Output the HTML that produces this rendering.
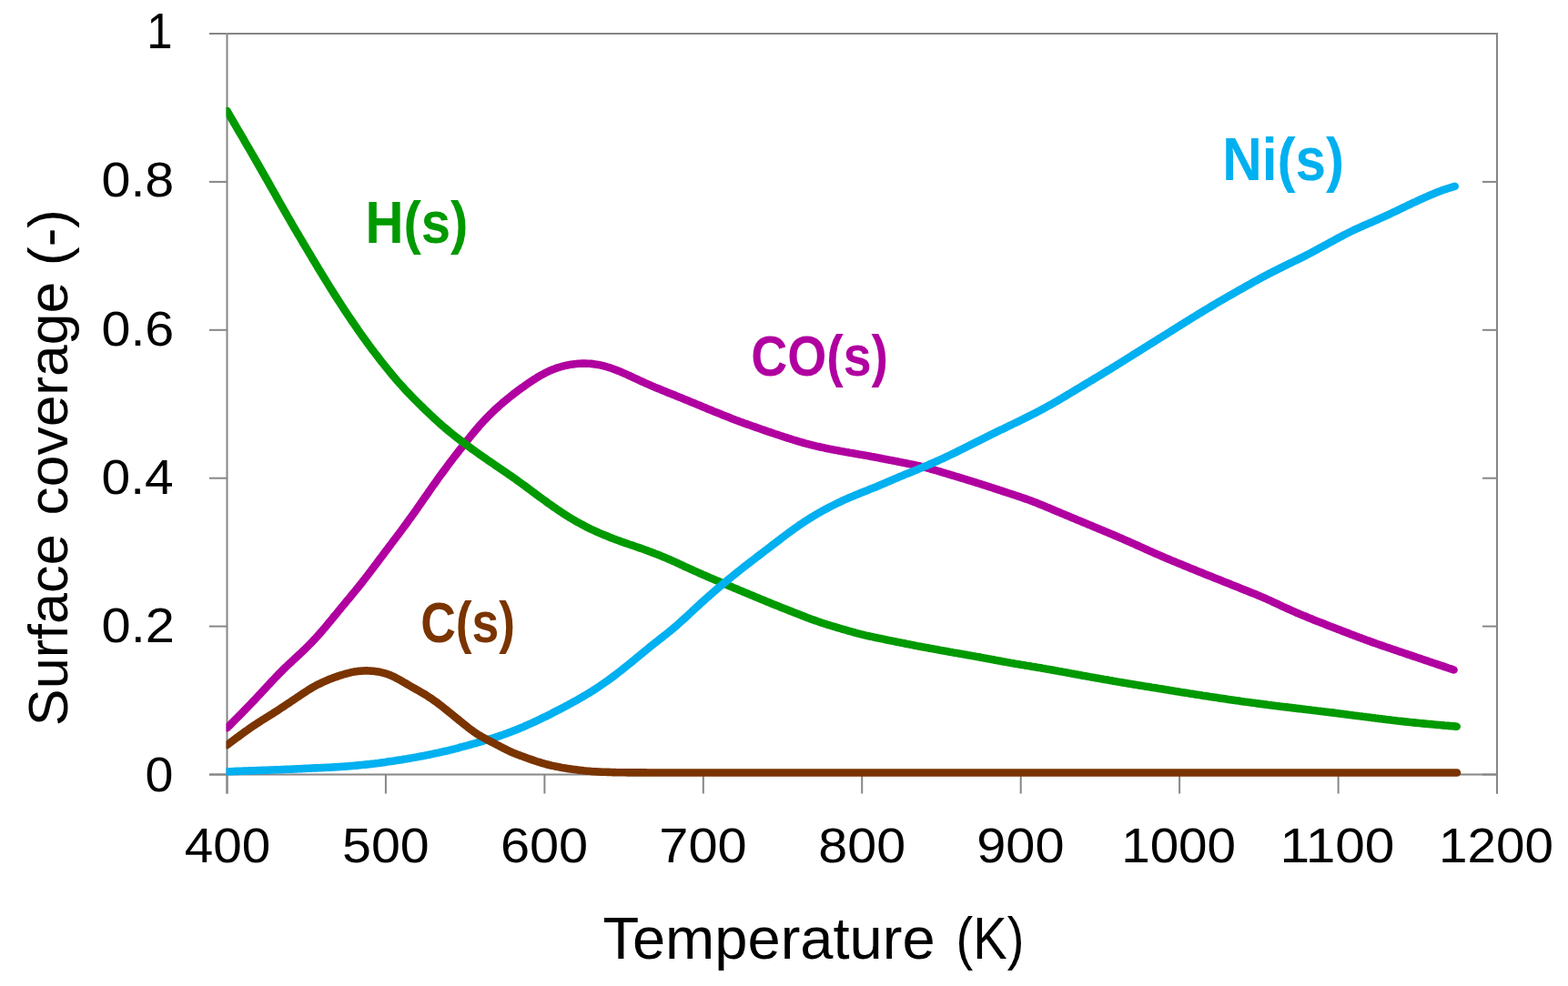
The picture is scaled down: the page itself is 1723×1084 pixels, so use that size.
<!DOCTYPE html><html><head><meta charset="utf-8"><title>Surface coverage vs Temperature</title><style>html,body{margin:0;padding:0;background:#fff;overflow:hidden;width:1723px;height:1084px;}svg{display:block;}text{font-family:"Liberation Sans",Arial,sans-serif;font-size:100px;}</style></head><body>
<svg width="1723" height="1084" viewBox="0 0 1723 1084">
<rect width="1723" height="1084" fill="#fff"/>
<g fill="none" stroke="#868686" stroke-width="2"><path d="M249.5,37.0 H1645.0 V872.5 M249.5,37.0 V872.5 M230.0,851.5 H1645.0" /><path d="M230.0,851.5 H249.5"/><path d="M1629.0,851.5 H1645.0"/><path d="M230.0,688.6 H249.5"/><path d="M1629.0,688.6 H1645.0"/><path d="M230.0,525.7 H249.5"/><path d="M1629.0,525.7 H1645.0"/><path d="M230.0,362.8 H249.5"/><path d="M1629.0,362.8 H1645.0"/><path d="M230.0,199.9 H249.5"/><path d="M1629.0,199.9 H1645.0"/><path d="M230.0,37.0 H249.5"/><path d="M1629.0,37.0 H1645.0"/><path d="M249.5,851.5 V872.5"/><path d="M423.9,851.5 V872.5"/><path d="M598.4,851.5 V872.5"/><path d="M772.8,851.5 V872.5"/><path d="M947.2,851.5 V872.5"/><path d="M1121.7,851.5 V872.5"/><path d="M1296.1,851.5 V872.5"/><path d="M1470.6,851.5 V872.5"/><path d="M1645.0,851.5 V872.5"/></g>
<defs><clipPath id="pc"><rect x="248.5" y="30" width="1400" height="830"/></clipPath></defs>
<g fill="none" stroke-width="8.6" stroke-linecap="round" stroke-linejoin="round" clip-path="url(#pc)">
<path stroke="#B000A0" d="M249.5,800.3 L251.5,798.3 L253.5,796.4 L255.5,794.3 L257.5,792.3 L259.5,790.3 L261.5,788.3 L263.5,786.2 L265.5,784.2 L267.5,782.1 L269.5,780.1 L271.5,778.0 L273.5,776.0 L275.5,773.9 L277.5,771.8 L279.5,769.7 L281.5,767.6 L283.5,765.4 L285.5,763.3 L287.5,761.1 L289.5,759.0 L291.5,756.8 L293.5,754.6 L295.5,752.5 L297.5,750.3 L299.5,748.2 L301.5,746.1 L303.5,744.0 L305.5,741.9 L307.5,739.9 L309.5,737.9 L311.5,735.9 L313.5,733.9 L315.5,732.0 L317.5,730.1 L319.5,728.3 L321.5,726.4 L323.5,724.5 L325.5,722.7 L327.5,720.8 L329.5,719.0 L331.5,717.1 L333.5,715.2 L335.5,713.3 L337.5,711.3 L339.5,709.3 L341.5,707.3 L343.5,705.2 L345.5,703.0 L347.5,700.9 L349.5,698.7 L351.5,696.4 L353.5,694.1 L355.5,691.8 L357.5,689.4 L359.5,687.0 L361.5,684.6 L363.5,682.2 L365.5,679.8 L367.5,677.3 L369.5,674.9 L371.5,672.4 L373.5,670.0 L375.5,667.6 L377.5,665.2 L379.5,662.7 L381.5,660.3 L383.5,657.9 L385.5,655.5 L387.5,653.1 L389.5,650.6 L391.5,648.2 L393.5,645.7 L395.5,643.2 L397.5,640.7 L399.5,638.1 L401.5,635.6 L403.5,633.0 L405.5,630.4 L407.5,627.7 L409.5,625.1 L411.5,622.4 L413.5,619.8 L415.5,617.1 L417.5,614.4 L419.5,611.8 L421.5,609.1 L423.5,606.4 L425.5,603.8 L427.5,601.1 L429.5,598.5 L431.5,595.8 L433.5,593.2 L435.5,590.5 L437.5,587.9 L439.5,585.2 L441.5,582.5 L443.5,579.8 L445.5,577.1 L447.5,574.4 L449.5,571.6 L451.5,568.9 L453.5,566.1 L455.5,563.2 L457.5,560.4 L459.5,557.5 L461.5,554.7 L463.5,551.8 L465.5,548.9 L467.5,546.0 L469.5,543.2 L471.5,540.3 L473.5,537.4 L475.5,534.6 L477.5,531.7 L479.5,528.9 L481.5,526.1 L483.5,523.3 L485.5,520.6 L487.5,517.9 L489.5,515.2 L491.5,512.5 L493.5,509.8 L495.5,507.2 L497.5,504.5 L499.5,501.9 L501.5,499.3 L503.5,496.8 L505.5,494.2 L507.5,491.7 L509.5,489.1 L511.5,486.6 L513.5,484.1 L515.5,481.6 L517.5,479.1 L519.5,476.7 L521.5,474.3 L523.5,471.9 L525.5,469.6 L527.5,467.3 L529.5,465.1 L531.5,462.9 L533.5,460.8 L535.5,458.7 L537.5,456.6 L539.5,454.7 L541.5,452.7 L543.5,450.8 L545.5,449.0 L547.5,447.2 L549.5,445.4 L551.5,443.6 L553.5,441.9 L555.5,440.3 L557.5,438.6 L559.5,437.0 L561.5,435.4 L563.5,433.8 L565.5,432.3 L567.5,430.8 L569.5,429.3 L571.5,427.8 L573.5,426.3 L575.5,424.9 L577.5,423.5 L579.5,422.1 L581.5,420.7 L583.5,419.4 L585.5,418.0 L587.5,416.8 L589.5,415.5 L591.5,414.3 L593.5,413.1 L595.5,412.0 L597.5,410.9 L599.5,409.8 L601.5,408.8 L603.5,407.9 L605.5,407.0 L607.5,406.2 L609.5,405.5 L611.5,404.7 L613.5,404.1 L615.5,403.5 L617.5,402.9 L619.5,402.4 L621.5,401.9 L623.5,401.5 L625.5,401.1 L627.5,400.8 L629.5,400.5 L631.5,400.2 L633.5,400.0 L635.5,399.8 L637.5,399.7 L639.5,399.6 L641.5,399.6 L643.5,399.6 L645.5,399.7 L647.5,399.8 L649.5,399.9 L651.5,400.1 L653.5,400.4 L655.5,400.7 L657.5,401.0 L659.5,401.4 L661.5,401.9 L663.5,402.4 L665.5,402.9 L667.5,403.5 L669.5,404.1 L671.5,404.8 L673.5,405.5 L675.5,406.2 L677.5,407.0 L679.5,407.8 L681.5,408.6 L683.5,409.4 L685.5,410.3 L687.5,411.2 L689.5,412.1 L691.5,413.0 L693.5,413.9 L695.5,414.9 L697.5,415.8 L699.5,416.7 L701.5,417.7 L703.5,418.6 L705.5,419.5 L707.5,420.4 L709.5,421.3 L711.5,422.2 L713.5,423.1 L715.5,423.9 L717.5,424.8 L719.5,425.7 L721.5,426.5 L723.5,427.3 L725.5,428.1 L727.5,428.9 L729.5,429.8 L731.5,430.6 L733.5,431.4 L735.5,432.2 L737.5,433.0 L739.5,433.8 L741.5,434.6 L743.5,435.4 L745.5,436.2 L747.5,437.0 L749.5,437.8 L751.5,438.7 L753.5,439.5 L755.5,440.3 L757.5,441.1 L759.5,442.0 L761.5,442.8 L763.5,443.6 L765.5,444.4 L767.5,445.3 L769.5,446.1 L771.5,446.9 L773.5,447.8 L775.5,448.6 L777.5,449.4 L779.5,450.2 L781.5,451.0 L783.5,451.9 L785.5,452.7 L787.5,453.5 L789.5,454.3 L791.5,455.1 L793.5,455.9 L795.5,456.7 L797.5,457.5 L799.5,458.3 L801.5,459.1 L803.5,459.9 L805.5,460.7 L807.5,461.4 L809.5,462.2 L811.5,462.9 L813.5,463.7 L815.5,464.4 L817.5,465.2 L819.5,465.9 L821.5,466.6 L823.5,467.3 L825.5,468.0 L827.5,468.7 L829.5,469.4 L831.5,470.1 L833.5,470.8 L835.5,471.5 L837.5,472.2 L839.5,472.9 L841.5,473.6 L843.5,474.3 L845.5,474.9 L847.5,475.6 L849.5,476.3 L851.5,477.0 L853.5,477.6 L855.5,478.3 L857.5,479.0 L859.5,479.6 L861.5,480.3 L863.5,480.9 L865.5,481.6 L867.5,482.2 L869.5,482.8 L871.5,483.5 L873.5,484.1 L875.5,484.7 L877.5,485.3 L879.5,485.9 L881.5,486.5 L883.5,487.0 L885.5,487.6 L887.5,488.1 L889.5,488.6 L891.5,489.1 L893.5,489.6 L895.5,490.1 L897.5,490.6 L899.5,491.0 L901.5,491.5 L903.5,491.9 L905.5,492.3 L907.5,492.8 L909.5,493.2 L911.5,493.6 L913.5,494.0 L915.5,494.4 L917.5,494.8 L919.5,495.1 L921.5,495.5 L923.5,495.9 L925.5,496.3 L927.5,496.6 L929.5,497.0 L931.5,497.3 L933.5,497.7 L935.5,498.0 L937.5,498.3 L939.5,498.7 L941.5,499.0 L943.5,499.4 L945.5,499.7 L947.5,500.1 L949.5,500.4 L951.5,500.8 L953.5,501.1 L955.5,501.5 L957.5,501.9 L959.5,502.2 L961.5,502.6 L963.5,503.0 L965.5,503.4 L967.5,503.8 L969.5,504.2 L971.5,504.6 L973.5,505.0 L975.5,505.4 L977.5,505.8 L979.5,506.1 L981.5,506.5 L983.5,506.9 L985.5,507.3 L987.5,507.7 L989.5,508.1 L991.5,508.5 L993.5,508.9 L995.5,509.3 L997.5,509.7 L999.5,510.1 L1001.5,510.5 L1003.5,510.9 L1005.5,511.3 L1007.5,511.8 L1009.5,512.2 L1011.5,512.7 L1013.5,513.2 L1015.5,513.7 L1017.5,514.2 L1019.5,514.7 L1021.5,515.2 L1023.5,515.8 L1025.5,516.3 L1027.5,516.9 L1029.5,517.5 L1031.5,518.1 L1033.5,518.7 L1035.5,519.3 L1037.5,519.9 L1039.5,520.5 L1041.5,521.1 L1043.5,521.7 L1045.5,522.3 L1047.5,522.9 L1049.5,523.5 L1051.5,524.1 L1053.5,524.7 L1055.5,525.3 L1057.5,525.9 L1059.5,526.5 L1061.5,527.1 L1063.5,527.8 L1065.5,528.4 L1067.5,529.0 L1069.5,529.6 L1071.5,530.2 L1073.5,530.9 L1075.5,531.5 L1077.5,532.1 L1079.5,532.8 L1081.5,533.4 L1083.5,534.0 L1085.5,534.7 L1087.5,535.3 L1089.5,536.0 L1091.5,536.6 L1093.5,537.3 L1095.5,537.9 L1097.5,538.6 L1099.5,539.2 L1101.5,539.9 L1103.5,540.6 L1105.5,541.2 L1107.5,541.9 L1109.5,542.5 L1111.5,543.2 L1113.5,543.8 L1115.5,544.5 L1117.5,545.2 L1119.5,545.8 L1121.5,546.5 L1123.5,547.2 L1125.5,547.9 L1127.5,548.6 L1129.5,549.3 L1131.5,550.0 L1133.5,550.8 L1135.5,551.6 L1137.5,552.3 L1139.5,553.1 L1141.5,553.9 L1143.5,554.7 L1145.5,555.5 L1147.5,556.3 L1149.5,557.2 L1151.5,558.0 L1153.5,558.8 L1155.5,559.7 L1157.5,560.5 L1159.5,561.4 L1161.5,562.2 L1163.5,563.0 L1165.5,563.9 L1167.5,564.7 L1169.5,565.6 L1171.5,566.4 L1173.5,567.2 L1175.5,568.1 L1177.5,568.9 L1179.5,569.7 L1181.5,570.6 L1183.5,571.4 L1185.5,572.2 L1187.5,573.1 L1189.5,573.9 L1191.5,574.7 L1193.5,575.6 L1195.5,576.4 L1197.5,577.2 L1199.5,578.1 L1201.5,578.9 L1203.5,579.7 L1205.5,580.6 L1207.5,581.4 L1209.5,582.2 L1211.5,583.1 L1213.5,583.9 L1215.5,584.7 L1217.5,585.6 L1219.5,586.4 L1221.5,587.3 L1223.5,588.1 L1225.5,589.0 L1227.5,589.8 L1229.5,590.7 L1231.5,591.5 L1233.5,592.4 L1235.5,593.3 L1237.5,594.2 L1239.5,595.0 L1241.5,595.9 L1243.5,596.8 L1245.5,597.7 L1247.5,598.6 L1249.5,599.5 L1251.5,600.4 L1253.5,601.3 L1255.5,602.2 L1257.5,603.1 L1259.5,604.0 L1261.5,604.9 L1263.5,605.8 L1265.5,606.7 L1267.5,607.6 L1269.5,608.5 L1271.5,609.3 L1273.5,610.2 L1275.5,611.1 L1277.5,611.9 L1279.5,612.8 L1281.5,613.7 L1283.5,614.5 L1285.5,615.3 L1287.5,616.2 L1289.5,617.0 L1291.5,617.8 L1293.5,618.7 L1295.5,619.5 L1297.5,620.3 L1299.5,621.1 L1301.5,622.0 L1303.5,622.8 L1305.5,623.6 L1307.5,624.4 L1309.5,625.2 L1311.5,626.0 L1313.5,626.8 L1315.5,627.7 L1317.5,628.5 L1319.5,629.3 L1321.5,630.1 L1323.5,630.9 L1325.5,631.7 L1327.5,632.5 L1329.5,633.3 L1331.5,634.1 L1333.5,634.9 L1335.5,635.7 L1337.5,636.5 L1339.5,637.3 L1341.5,638.1 L1343.5,638.9 L1345.5,639.7 L1347.5,640.5 L1349.5,641.3 L1351.5,642.1 L1353.5,642.9 L1355.5,643.7 L1357.5,644.5 L1359.5,645.3 L1361.5,646.1 L1363.5,646.9 L1365.5,647.7 L1367.5,648.5 L1369.5,649.3 L1371.5,650.1 L1373.5,650.9 L1375.5,651.7 L1377.5,652.5 L1379.5,653.3 L1381.5,654.1 L1383.5,655.0 L1385.5,655.8 L1387.5,656.7 L1389.5,657.5 L1391.5,658.4 L1393.5,659.3 L1395.5,660.2 L1397.5,661.1 L1399.5,662.1 L1401.5,663.0 L1403.5,663.9 L1405.5,664.9 L1407.5,665.8 L1409.5,666.8 L1411.5,667.7 L1413.5,668.6 L1415.5,669.5 L1417.5,670.4 L1419.5,671.3 L1421.5,672.2 L1423.5,673.1 L1425.5,674.0 L1427.5,674.8 L1429.5,675.7 L1431.5,676.5 L1433.5,677.3 L1435.5,678.1 L1437.5,679.0 L1439.5,679.8 L1441.5,680.6 L1443.5,681.4 L1445.5,682.2 L1447.5,683.0 L1449.5,683.7 L1451.5,684.5 L1453.5,685.3 L1455.5,686.1 L1457.5,686.9 L1459.5,687.7 L1461.5,688.5 L1463.5,689.2 L1465.5,690.0 L1467.5,690.8 L1469.5,691.6 L1471.5,692.3 L1473.5,693.1 L1475.5,693.9 L1477.5,694.6 L1479.5,695.4 L1481.5,696.1 L1483.5,696.9 L1485.5,697.7 L1487.5,698.4 L1489.5,699.2 L1491.5,699.9 L1493.5,700.7 L1495.5,701.4 L1497.5,702.2 L1499.5,702.9 L1501.5,703.7 L1503.5,704.4 L1505.5,705.1 L1507.5,705.9 L1509.5,706.6 L1511.5,707.3 L1513.5,708.0 L1515.5,708.7 L1517.5,709.4 L1519.5,710.1 L1521.5,710.8 L1523.5,711.5 L1525.5,712.1 L1527.5,712.8 L1529.5,713.5 L1531.5,714.2 L1533.5,714.8 L1535.5,715.5 L1537.5,716.2 L1539.5,716.9 L1541.5,717.5 L1543.5,718.2 L1545.5,718.9 L1547.5,719.6 L1549.5,720.2 L1551.5,720.9 L1553.5,721.6 L1555.5,722.3 L1557.5,723.0 L1559.5,723.6 L1561.5,724.3 L1563.5,725.0 L1565.5,725.7 L1567.5,726.3 L1569.5,727.0 L1571.5,727.7 L1573.5,728.4 L1575.5,729.0 L1577.5,729.7 L1579.5,730.4 L1581.5,731.1 L1583.5,731.7 L1585.5,732.4 L1587.5,733.1 L1589.5,733.8 L1591.5,734.5 L1593.5,735.1 L1595.5,735.8 L1597.5,736.5"/>
<path stroke="#009900" d="M249.5,122.0 L251.5,125.5 L253.5,128.9 L255.5,132.3 L257.5,135.7 L259.5,139.1 L261.5,142.6 L263.5,146.0 L265.5,149.4 L267.5,152.8 L269.5,156.3 L271.5,159.7 L273.5,163.2 L275.5,166.6 L277.5,170.1 L279.5,173.5 L281.5,177.0 L283.5,180.5 L285.5,184.0 L287.5,187.5 L289.5,191.0 L291.5,194.5 L293.5,198.0 L295.5,201.5 L297.5,205.1 L299.5,208.6 L301.5,212.2 L303.5,215.7 L305.5,219.3 L307.5,222.8 L309.5,226.4 L311.5,229.9 L313.5,233.4 L315.5,236.9 L317.5,240.4 L319.5,243.8 L321.5,247.3 L323.5,250.7 L325.5,254.1 L327.5,257.5 L329.5,260.9 L331.5,264.3 L333.5,267.7 L335.5,271.0 L337.5,274.4 L339.5,277.8 L341.5,281.1 L343.5,284.4 L345.5,287.8 L347.5,291.1 L349.5,294.4 L351.5,297.7 L353.5,301.0 L355.5,304.3 L357.5,307.6 L359.5,310.8 L361.5,314.1 L363.5,317.3 L365.5,320.4 L367.5,323.6 L369.5,326.7 L371.5,329.9 L373.5,332.9 L375.5,336.0 L377.5,339.1 L379.5,342.1 L381.5,345.1 L383.5,348.1 L385.5,351.0 L387.5,354.0 L389.5,356.9 L391.5,359.8 L393.5,362.7 L395.5,365.6 L397.5,368.4 L399.5,371.2 L401.5,374.0 L403.5,376.8 L405.5,379.5 L407.5,382.2 L409.5,384.9 L411.5,387.5 L413.5,390.1 L415.5,392.7 L417.5,395.3 L419.5,397.9 L421.5,400.4 L423.5,402.9 L425.5,405.4 L427.5,407.8 L429.5,410.3 L431.5,412.7 L433.5,415.0 L435.5,417.4 L437.5,419.7 L439.5,422.0 L441.5,424.2 L443.5,426.4 L445.5,428.6 L447.5,430.7 L449.5,432.8 L451.5,434.9 L453.5,437.0 L455.5,439.0 L457.5,441.0 L459.5,443.0 L461.5,445.0 L463.5,446.9 L465.5,448.9 L467.5,450.8 L469.5,452.7 L471.5,454.6 L473.5,456.5 L475.5,458.4 L477.5,460.3 L479.5,462.1 L481.5,463.9 L483.5,465.7 L485.5,467.5 L487.5,469.2 L489.5,470.9 L491.5,472.6 L493.5,474.3 L495.5,475.9 L497.5,477.5 L499.5,479.1 L501.5,480.7 L503.5,482.2 L505.5,483.8 L507.5,485.3 L509.5,486.8 L511.5,488.3 L513.5,489.8 L515.5,491.3 L517.5,492.7 L519.5,494.2 L521.5,495.6 L523.5,497.1 L525.5,498.5 L527.5,499.9 L529.5,501.3 L531.5,502.7 L533.5,504.1 L535.5,505.5 L537.5,506.9 L539.5,508.2 L541.5,509.6 L543.5,511.0 L545.5,512.4 L547.5,513.7 L549.5,515.1 L551.5,516.4 L553.5,517.8 L555.5,519.2 L557.5,520.5 L559.5,521.9 L561.5,523.3 L563.5,524.7 L565.5,526.1 L567.5,527.5 L569.5,529.0 L571.5,530.4 L573.5,531.9 L575.5,533.3 L577.5,534.8 L579.5,536.3 L581.5,537.8 L583.5,539.2 L585.5,540.7 L587.5,542.2 L589.5,543.7 L591.5,545.2 L593.5,546.7 L595.5,548.1 L597.5,549.6 L599.5,551.0 L601.5,552.5 L603.5,553.9 L605.5,555.3 L607.5,556.8 L609.5,558.1 L611.5,559.5 L613.5,560.9 L615.5,562.2 L617.5,563.6 L619.5,564.9 L621.5,566.2 L623.5,567.4 L625.5,568.7 L627.5,569.9 L629.5,571.1 L631.5,572.2 L633.5,573.4 L635.5,574.5 L637.5,575.6 L639.5,576.7 L641.5,577.7 L643.5,578.8 L645.5,579.8 L647.5,580.8 L649.5,581.8 L651.5,582.7 L653.5,583.6 L655.5,584.6 L657.5,585.4 L659.5,586.3 L661.5,587.2 L663.5,588.0 L665.5,588.8 L667.5,589.6 L669.5,590.4 L671.5,591.2 L673.5,592.0 L675.5,592.7 L677.5,593.5 L679.5,594.2 L681.5,594.9 L683.5,595.7 L685.5,596.4 L687.5,597.1 L689.5,597.8 L691.5,598.5 L693.5,599.1 L695.5,599.8 L697.5,600.5 L699.5,601.2 L701.5,601.9 L703.5,602.6 L705.5,603.3 L707.5,604.0 L709.5,604.7 L711.5,605.4 L713.5,606.2 L715.5,606.9 L717.5,607.7 L719.5,608.5 L721.5,609.2 L723.5,610.0 L725.5,610.8 L727.5,611.7 L729.5,612.5 L731.5,613.3 L733.5,614.2 L735.5,615.0 L737.5,615.9 L739.5,616.8 L741.5,617.7 L743.5,618.6 L745.5,619.5 L747.5,620.5 L749.5,621.4 L751.5,622.3 L753.5,623.3 L755.5,624.2 L757.5,625.1 L759.5,626.0 L761.5,626.9 L763.5,627.8 L765.5,628.7 L767.5,629.6 L769.5,630.5 L771.5,631.4 L773.5,632.3 L775.5,633.1 L777.5,634.0 L779.5,634.9 L781.5,635.7 L783.5,636.6 L785.5,637.4 L787.5,638.3 L789.5,639.1 L791.5,639.9 L793.5,640.8 L795.5,641.6 L797.5,642.5 L799.5,643.3 L801.5,644.2 L803.5,645.0 L805.5,645.9 L807.5,646.7 L809.5,647.5 L811.5,648.4 L813.5,649.2 L815.5,650.1 L817.5,650.9 L819.5,651.8 L821.5,652.6 L823.5,653.4 L825.5,654.3 L827.5,655.1 L829.5,655.9 L831.5,656.8 L833.5,657.6 L835.5,658.4 L837.5,659.3 L839.5,660.1 L841.5,660.9 L843.5,661.7 L845.5,662.5 L847.5,663.4 L849.5,664.2 L851.5,665.0 L853.5,665.8 L855.5,666.6 L857.5,667.4 L859.5,668.2 L861.5,669.0 L863.5,669.8 L865.5,670.6 L867.5,671.4 L869.5,672.1 L871.5,672.9 L873.5,673.7 L875.5,674.5 L877.5,675.3 L879.5,676.1 L881.5,676.9 L883.5,677.6 L885.5,678.4 L887.5,679.2 L889.5,679.9 L891.5,680.7 L893.5,681.4 L895.5,682.1 L897.5,682.8 L899.5,683.5 L901.5,684.2 L903.5,684.9 L905.5,685.5 L907.5,686.2 L909.5,686.8 L911.5,687.4 L913.5,688.0 L915.5,688.6 L917.5,689.2 L919.5,689.8 L921.5,690.4 L923.5,691.0 L925.5,691.6 L927.5,692.2 L929.5,692.7 L931.5,693.3 L933.5,693.9 L935.5,694.4 L937.5,695.0 L939.5,695.5 L941.5,696.1 L943.5,696.6 L945.5,697.1 L947.5,697.6 L949.5,698.1 L951.5,698.6 L953.5,699.0 L955.5,699.5 L957.5,699.9 L959.5,700.3 L961.5,700.8 L963.5,701.2 L965.5,701.6 L967.5,702.0 L969.5,702.4 L971.5,702.8 L973.5,703.3 L975.5,703.7 L977.5,704.1 L979.5,704.5 L981.5,704.9 L983.5,705.3 L985.5,705.7 L987.5,706.1 L989.5,706.5 L991.5,706.9 L993.5,707.3 L995.5,707.7 L997.5,708.1 L999.5,708.5 L1001.5,708.9 L1003.5,709.3 L1005.5,709.7 L1007.5,710.1 L1009.5,710.5 L1011.5,710.8 L1013.5,711.2 L1015.5,711.6 L1017.5,711.9 L1019.5,712.3 L1021.5,712.7 L1023.5,713.0 L1025.5,713.4 L1027.5,713.8 L1029.5,714.1 L1031.5,714.5 L1033.5,714.9 L1035.5,715.2 L1037.5,715.6 L1039.5,715.9 L1041.5,716.3 L1043.5,716.7 L1045.5,717.0 L1047.5,717.4 L1049.5,717.7 L1051.5,718.1 L1053.5,718.4 L1055.5,718.8 L1057.5,719.1 L1059.5,719.5 L1061.5,719.8 L1063.5,720.2 L1065.5,720.5 L1067.5,720.9 L1069.5,721.3 L1071.5,721.6 L1073.5,722.0 L1075.5,722.3 L1077.5,722.7 L1079.5,723.1 L1081.5,723.5 L1083.5,723.8 L1085.5,724.2 L1087.5,724.6 L1089.5,724.9 L1091.5,725.3 L1093.5,725.7 L1095.5,726.1 L1097.5,726.4 L1099.5,726.8 L1101.5,727.2 L1103.5,727.5 L1105.5,727.9 L1107.5,728.3 L1109.5,728.6 L1111.5,729.0 L1113.5,729.3 L1115.5,729.7 L1117.5,730.0 L1119.5,730.3 L1121.5,730.7 L1123.5,731.0 L1125.5,731.3 L1127.5,731.7 L1129.5,732.0 L1131.5,732.3 L1133.5,732.7 L1135.5,733.0 L1137.5,733.3 L1139.5,733.7 L1141.5,734.0 L1143.5,734.3 L1145.5,734.7 L1147.5,735.0 L1149.5,735.4 L1151.5,735.7 L1153.5,736.1 L1155.5,736.4 L1157.5,736.8 L1159.5,737.2 L1161.5,737.5 L1163.5,737.9 L1165.5,738.2 L1167.5,738.6 L1169.5,739.0 L1171.5,739.3 L1173.5,739.7 L1175.5,740.1 L1177.5,740.5 L1179.5,740.8 L1181.5,741.2 L1183.5,741.6 L1185.5,741.9 L1187.5,742.3 L1189.5,742.7 L1191.5,743.0 L1193.5,743.4 L1195.5,743.8 L1197.5,744.1 L1199.5,744.5 L1201.5,744.8 L1203.5,745.2 L1205.5,745.5 L1207.5,745.9 L1209.5,746.3 L1211.5,746.6 L1213.5,747.0 L1215.5,747.3 L1217.5,747.6 L1219.5,748.0 L1221.5,748.3 L1223.5,748.7 L1225.5,749.0 L1227.5,749.4 L1229.5,749.7 L1231.5,750.1 L1233.5,750.4 L1235.5,750.7 L1237.5,751.1 L1239.5,751.4 L1241.5,751.7 L1243.5,752.1 L1245.5,752.4 L1247.5,752.7 L1249.5,753.1 L1251.5,753.4 L1253.5,753.7 L1255.5,754.0 L1257.5,754.4 L1259.5,754.7 L1261.5,755.0 L1263.5,755.3 L1265.5,755.7 L1267.5,756.0 L1269.5,756.3 L1271.5,756.6 L1273.5,757.0 L1275.5,757.3 L1277.5,757.6 L1279.5,757.9 L1281.5,758.3 L1283.5,758.6 L1285.5,758.9 L1287.5,759.2 L1289.5,759.6 L1291.5,759.9 L1293.5,760.2 L1295.5,760.5 L1297.5,760.9 L1299.5,761.2 L1301.5,761.5 L1303.5,761.8 L1305.5,762.1 L1307.5,762.5 L1309.5,762.8 L1311.5,763.1 L1313.5,763.4 L1315.5,763.7 L1317.5,764.0 L1319.5,764.3 L1321.5,764.7 L1323.5,765.0 L1325.5,765.3 L1327.5,765.6 L1329.5,765.9 L1331.5,766.2 L1333.5,766.5 L1335.5,766.8 L1337.5,767.1 L1339.5,767.4 L1341.5,767.7 L1343.5,768.0 L1345.5,768.3 L1347.5,768.6 L1349.5,768.9 L1351.5,769.2 L1353.5,769.5 L1355.5,769.8 L1357.5,770.1 L1359.5,770.3 L1361.5,770.6 L1363.5,770.9 L1365.5,771.2 L1367.5,771.5 L1369.5,771.7 L1371.5,772.0 L1373.5,772.3 L1375.5,772.6 L1377.5,772.8 L1379.5,773.1 L1381.5,773.4 L1383.5,773.6 L1385.5,773.9 L1387.5,774.1 L1389.5,774.4 L1391.5,774.6 L1393.5,774.9 L1395.5,775.2 L1397.5,775.4 L1399.5,775.7 L1401.5,775.9 L1403.5,776.2 L1405.5,776.4 L1407.5,776.7 L1409.5,776.9 L1411.5,777.2 L1413.5,777.4 L1415.5,777.6 L1417.5,777.9 L1419.5,778.1 L1421.5,778.4 L1423.5,778.6 L1425.5,778.9 L1427.5,779.1 L1429.5,779.3 L1431.5,779.6 L1433.5,779.8 L1435.5,780.1 L1437.5,780.3 L1439.5,780.5 L1441.5,780.8 L1443.5,781.0 L1445.5,781.2 L1447.5,781.5 L1449.5,781.7 L1451.5,781.9 L1453.5,782.2 L1455.5,782.4 L1457.5,782.7 L1459.5,782.9 L1461.5,783.2 L1463.5,783.4 L1465.5,783.6 L1467.5,783.9 L1469.5,784.2 L1471.5,784.4 L1473.5,784.7 L1475.5,784.9 L1477.5,785.2 L1479.5,785.4 L1481.5,785.7 L1483.5,786.0 L1485.5,786.2 L1487.5,786.5 L1489.5,786.7 L1491.5,787.0 L1493.5,787.3 L1495.5,787.5 L1497.5,787.8 L1499.5,788.0 L1501.5,788.3 L1503.5,788.5 L1505.5,788.8 L1507.5,789.1 L1509.5,789.3 L1511.5,789.6 L1513.5,789.8 L1515.5,790.1 L1517.5,790.3 L1519.5,790.6 L1521.5,790.8 L1523.5,791.1 L1525.5,791.3 L1527.5,791.5 L1529.5,791.8 L1531.5,792.0 L1533.5,792.2 L1535.5,792.5 L1537.5,792.7 L1539.5,792.9 L1541.5,793.1 L1543.5,793.4 L1545.5,793.6 L1547.5,793.8 L1549.5,794.0 L1551.5,794.2 L1553.5,794.4 L1555.5,794.6 L1557.5,794.8 L1559.5,795.0 L1561.5,795.2 L1563.5,795.4 L1565.5,795.6 L1567.5,795.8 L1569.5,796.0 L1571.5,796.1 L1573.5,796.3 L1575.5,796.5 L1577.5,796.7 L1579.5,796.9 L1581.5,797.0 L1583.5,797.2 L1585.5,797.4 L1587.5,797.6 L1589.5,797.7 L1591.5,797.9 L1593.5,798.1 L1595.5,798.3 L1597.5,798.4 L1599.5,798.6 L1600.7,798.7"/>
<path stroke="#00B0F0" d="M249.5,848.3 L251.5,848.2 L253.5,848.2 L255.5,848.1 L257.5,848.0 L259.5,847.9 L261.5,847.9 L263.5,847.8 L265.5,847.7 L267.5,847.6 L269.5,847.6 L271.5,847.5 L273.5,847.4 L275.5,847.3 L277.5,847.3 L279.5,847.2 L281.5,847.1 L283.5,847.1 L285.5,847.0 L287.5,846.9 L289.5,846.8 L291.5,846.8 L293.5,846.7 L295.5,846.6 L297.5,846.5 L299.5,846.5 L301.5,846.4 L303.5,846.3 L305.5,846.2 L307.5,846.2 L309.5,846.1 L311.5,846.0 L313.5,845.9 L315.5,845.8 L317.5,845.7 L319.5,845.7 L321.5,845.6 L323.5,845.5 L325.5,845.4 L327.5,845.3 L329.5,845.2 L331.5,845.1 L333.5,845.0 L335.5,844.9 L337.5,844.8 L339.5,844.7 L341.5,844.6 L343.5,844.5 L345.5,844.4 L347.5,844.4 L349.5,844.3 L351.5,844.2 L353.5,844.1 L355.5,844.0 L357.5,843.9 L359.5,843.8 L361.5,843.7 L363.5,843.6 L365.5,843.5 L367.5,843.4 L369.5,843.3 L371.5,843.1 L373.5,843.0 L375.5,842.9 L377.5,842.8 L379.5,842.6 L381.5,842.5 L383.5,842.3 L385.5,842.1 L387.5,842.0 L389.5,841.8 L391.5,841.6 L393.5,841.4 L395.5,841.2 L397.5,841.0 L399.5,840.8 L401.5,840.6 L403.5,840.4 L405.5,840.2 L407.5,839.9 L409.5,839.7 L411.5,839.5 L413.5,839.2 L415.5,839.0 L417.5,838.7 L419.5,838.4 L421.5,838.2 L423.5,837.9 L425.5,837.6 L427.5,837.3 L429.5,837.0 L431.5,836.7 L433.5,836.4 L435.5,836.1 L437.5,835.8 L439.5,835.5 L441.5,835.2 L443.5,834.8 L445.5,834.5 L447.5,834.2 L449.5,833.8 L451.5,833.5 L453.5,833.1 L455.5,832.7 L457.5,832.4 L459.5,832.0 L461.5,831.6 L463.5,831.2 L465.5,830.9 L467.5,830.5 L469.5,830.1 L471.5,829.7 L473.5,829.3 L475.5,828.9 L477.5,828.4 L479.5,828.0 L481.5,827.6 L483.5,827.1 L485.5,826.7 L487.5,826.2 L489.5,825.8 L491.5,825.3 L493.5,824.8 L495.5,824.3 L497.5,823.8 L499.5,823.3 L501.5,822.8 L503.5,822.3 L505.5,821.7 L507.5,821.2 L509.5,820.7 L511.5,820.1 L513.5,819.6 L515.5,819.0 L517.5,818.5 L519.5,817.9 L521.5,817.4 L523.5,816.8 L525.5,816.2 L527.5,815.7 L529.5,815.1 L531.5,814.5 L533.5,813.9 L535.5,813.3 L537.5,812.7 L539.5,812.1 L541.5,811.5 L543.5,810.9 L545.5,810.2 L547.5,809.6 L549.5,808.9 L551.5,808.2 L553.5,807.5 L555.5,806.8 L557.5,806.1 L559.5,805.3 L561.5,804.6 L563.5,803.8 L565.5,803.0 L567.5,802.2 L569.5,801.4 L571.5,800.6 L573.5,799.7 L575.5,798.9 L577.5,798.0 L579.5,797.1 L581.5,796.2 L583.5,795.3 L585.5,794.4 L587.5,793.5 L589.5,792.6 L591.5,791.6 L593.5,790.7 L595.5,789.7 L597.5,788.7 L599.5,787.8 L601.5,786.8 L603.5,785.8 L605.5,784.8 L607.5,783.7 L609.5,782.7 L611.5,781.7 L613.5,780.6 L615.5,779.6 L617.5,778.6 L619.5,777.5 L621.5,776.4 L623.5,775.4 L625.5,774.3 L627.5,773.2 L629.5,772.1 L631.5,771.0 L633.5,769.9 L635.5,768.8 L637.5,767.6 L639.5,766.5 L641.5,765.3 L643.5,764.1 L645.5,762.9 L647.5,761.7 L649.5,760.5 L651.5,759.2 L653.5,758.0 L655.5,756.7 L657.5,755.3 L659.5,754.0 L661.5,752.6 L663.5,751.2 L665.5,749.8 L667.5,748.4 L669.5,747.0 L671.5,745.5 L673.5,744.0 L675.5,742.5 L677.5,741.0 L679.5,739.4 L681.5,737.9 L683.5,736.3 L685.5,734.7 L687.5,733.1 L689.5,731.5 L691.5,729.9 L693.5,728.3 L695.5,726.6 L697.5,725.0 L699.5,723.3 L701.5,721.7 L703.5,720.0 L705.5,718.4 L707.5,716.7 L709.5,715.1 L711.5,713.5 L713.5,711.8 L715.5,710.2 L717.5,708.6 L719.5,707.0 L721.5,705.5 L723.5,703.9 L725.5,702.3 L727.5,700.8 L729.5,699.2 L731.5,697.6 L733.5,696.0 L735.5,694.4 L737.5,692.7 L739.5,691.1 L741.5,689.4 L743.5,687.7 L745.5,685.9 L747.5,684.1 L749.5,682.3 L751.5,680.5 L753.5,678.7 L755.5,676.8 L757.5,674.9 L759.5,673.1 L761.5,671.2 L763.5,669.4 L765.5,667.5 L767.5,665.7 L769.5,663.8 L771.5,662.0 L773.5,660.2 L775.5,658.4 L777.5,656.6 L779.5,654.9 L781.5,653.1 L783.5,651.4 L785.5,649.6 L787.5,647.9 L789.5,646.2 L791.5,644.5 L793.5,642.8 L795.5,641.1 L797.5,639.5 L799.5,637.8 L801.5,636.2 L803.5,634.5 L805.5,632.9 L807.5,631.3 L809.5,629.7 L811.5,628.1 L813.5,626.5 L815.5,624.9 L817.5,623.3 L819.5,621.8 L821.5,620.2 L823.5,618.7 L825.5,617.1 L827.5,615.6 L829.5,614.1 L831.5,612.5 L833.5,611.0 L835.5,609.5 L837.5,608.0 L839.5,606.4 L841.5,604.9 L843.5,603.4 L845.5,601.9 L847.5,600.3 L849.5,598.8 L851.5,597.3 L853.5,595.7 L855.5,594.2 L857.5,592.7 L859.5,591.1 L861.5,589.6 L863.5,588.1 L865.5,586.6 L867.5,585.1 L869.5,583.7 L871.5,582.2 L873.5,580.8 L875.5,579.4 L877.5,578.0 L879.5,576.6 L881.5,575.3 L883.5,573.9 L885.5,572.6 L887.5,571.4 L889.5,570.1 L891.5,568.8 L893.5,567.6 L895.5,566.4 L897.5,565.2 L899.5,564.1 L901.5,562.9 L903.5,561.8 L905.5,560.7 L907.5,559.6 L909.5,558.6 L911.5,557.5 L913.5,556.5 L915.5,555.5 L917.5,554.5 L919.5,553.5 L921.5,552.5 L923.5,551.6 L925.5,550.6 L927.5,549.7 L929.5,548.8 L931.5,547.9 L933.5,547.1 L935.5,546.2 L937.5,545.4 L939.5,544.6 L941.5,543.8 L943.5,542.9 L945.5,542.1 L947.5,541.3 L949.5,540.5 L951.5,539.7 L953.5,538.9 L955.5,538.1 L957.5,537.3 L959.5,536.5 L961.5,535.7 L963.5,534.9 L965.5,534.0 L967.5,533.2 L969.5,532.3 L971.5,531.5 L973.5,530.6 L975.5,529.7 L977.5,528.9 L979.5,528.0 L981.5,527.2 L983.5,526.3 L985.5,525.5 L987.5,524.6 L989.5,523.8 L991.5,523.0 L993.5,522.1 L995.5,521.3 L997.5,520.5 L999.5,519.7 L1001.5,518.9 L1003.5,518.0 L1005.5,517.2 L1007.5,516.4 L1009.5,515.6 L1011.5,514.8 L1013.5,513.9 L1015.5,513.1 L1017.5,512.2 L1019.5,511.4 L1021.5,510.5 L1023.5,509.6 L1025.5,508.8 L1027.5,507.9 L1029.5,507.0 L1031.5,506.1 L1033.5,505.2 L1035.5,504.3 L1037.5,503.3 L1039.5,502.4 L1041.5,501.5 L1043.5,500.5 L1045.5,499.5 L1047.5,498.6 L1049.5,497.6 L1051.5,496.6 L1053.5,495.6 L1055.5,494.6 L1057.5,493.7 L1059.5,492.7 L1061.5,491.7 L1063.5,490.6 L1065.5,489.6 L1067.5,488.6 L1069.5,487.6 L1071.5,486.6 L1073.5,485.6 L1075.5,484.6 L1077.5,483.6 L1079.5,482.6 L1081.5,481.6 L1083.5,480.6 L1085.5,479.6 L1087.5,478.6 L1089.5,477.6 L1091.5,476.7 L1093.5,475.7 L1095.5,474.7 L1097.5,473.7 L1099.5,472.7 L1101.5,471.8 L1103.5,470.8 L1105.5,469.8 L1107.5,468.9 L1109.5,467.9 L1111.5,467.0 L1113.5,466.0 L1115.5,465.0 L1117.5,464.1 L1119.5,463.1 L1121.5,462.1 L1123.5,461.2 L1125.5,460.2 L1127.5,459.2 L1129.5,458.2 L1131.5,457.2 L1133.5,456.2 L1135.5,455.1 L1137.5,454.1 L1139.5,453.1 L1141.5,452.0 L1143.5,450.9 L1145.5,449.9 L1147.5,448.8 L1149.5,447.7 L1151.5,446.6 L1153.5,445.5 L1155.5,444.4 L1157.5,443.2 L1159.5,442.1 L1161.5,440.9 L1163.5,439.8 L1165.5,438.6 L1167.5,437.4 L1169.5,436.2 L1171.5,435.0 L1173.5,433.8 L1175.5,432.6 L1177.5,431.4 L1179.5,430.2 L1181.5,429.0 L1183.5,427.8 L1185.5,426.6 L1187.5,425.4 L1189.5,424.2 L1191.5,423.0 L1193.5,421.8 L1195.5,420.6 L1197.5,419.4 L1199.5,418.2 L1201.5,417.0 L1203.5,415.8 L1205.5,414.6 L1207.5,413.4 L1209.5,412.2 L1211.5,411.0 L1213.5,409.7 L1215.5,408.5 L1217.5,407.3 L1219.5,406.1 L1221.5,404.8 L1223.5,403.6 L1225.5,402.4 L1227.5,401.1 L1229.5,399.9 L1231.5,398.6 L1233.5,397.4 L1235.5,396.1 L1237.5,394.9 L1239.5,393.6 L1241.5,392.4 L1243.5,391.1 L1245.5,389.8 L1247.5,388.6 L1249.5,387.3 L1251.5,386.1 L1253.5,384.8 L1255.5,383.6 L1257.5,382.3 L1259.5,381.1 L1261.5,379.8 L1263.5,378.6 L1265.5,377.3 L1267.5,376.1 L1269.5,374.8 L1271.5,373.6 L1273.5,372.3 L1275.5,371.1 L1277.5,369.9 L1279.5,368.6 L1281.5,367.4 L1283.5,366.1 L1285.5,364.9 L1287.5,363.6 L1289.5,362.3 L1291.5,361.1 L1293.5,359.8 L1295.5,358.6 L1297.5,357.3 L1299.5,356.1 L1301.5,354.8 L1303.5,353.6 L1305.5,352.3 L1307.5,351.1 L1309.5,349.8 L1311.5,348.6 L1313.5,347.4 L1315.5,346.2 L1317.5,344.9 L1319.5,343.7 L1321.5,342.5 L1323.5,341.3 L1325.5,340.1 L1327.5,338.9 L1329.5,337.7 L1331.5,336.5 L1333.5,335.3 L1335.5,334.1 L1337.5,332.9 L1339.5,331.7 L1341.5,330.6 L1343.5,329.4 L1345.5,328.3 L1347.5,327.1 L1349.5,325.9 L1351.5,324.8 L1353.5,323.7 L1355.5,322.5 L1357.5,321.4 L1359.5,320.2 L1361.5,319.1 L1363.5,318.0 L1365.5,316.9 L1367.5,315.7 L1369.5,314.6 L1371.5,313.5 L1373.5,312.4 L1375.5,311.2 L1377.5,310.1 L1379.5,309.0 L1381.5,307.9 L1383.5,306.8 L1385.5,305.7 L1387.5,304.6 L1389.5,303.6 L1391.5,302.5 L1393.5,301.4 L1395.5,300.4 L1397.5,299.3 L1399.5,298.3 L1401.5,297.3 L1403.5,296.3 L1405.5,295.3 L1407.5,294.3 L1409.5,293.3 L1411.5,292.3 L1413.5,291.3 L1415.5,290.4 L1417.5,289.4 L1419.5,288.5 L1421.5,287.5 L1423.5,286.5 L1425.5,285.6 L1427.5,284.6 L1429.5,283.6 L1431.5,282.6 L1433.5,281.6 L1435.5,280.6 L1437.5,279.5 L1439.5,278.5 L1441.5,277.4 L1443.5,276.4 L1445.5,275.3 L1447.5,274.2 L1449.5,273.1 L1451.5,272.0 L1453.5,270.9 L1455.5,269.8 L1457.5,268.8 L1459.5,267.7 L1461.5,266.6 L1463.5,265.5 L1465.5,264.4 L1467.5,263.3 L1469.5,262.2 L1471.5,261.2 L1473.5,260.1 L1475.5,259.1 L1477.5,258.0 L1479.5,257.0 L1481.5,256.0 L1483.5,255.0 L1485.5,254.0 L1487.5,253.0 L1489.5,252.1 L1491.5,251.2 L1493.5,250.3 L1495.5,249.4 L1497.5,248.5 L1499.5,247.6 L1501.5,246.8 L1503.5,245.9 L1505.5,245.0 L1507.5,244.2 L1509.5,243.3 L1511.5,242.4 L1513.5,241.5 L1515.5,240.6 L1517.5,239.7 L1519.5,238.8 L1521.5,237.9 L1523.5,237.0 L1525.5,236.1 L1527.5,235.1 L1529.5,234.2 L1531.5,233.2 L1533.5,232.3 L1535.5,231.3 L1537.5,230.3 L1539.5,229.4 L1541.5,228.4 L1543.5,227.5 L1545.5,226.5 L1547.5,225.5 L1549.5,224.6 L1551.5,223.6 L1553.5,222.7 L1555.5,221.8 L1557.5,220.8 L1559.5,219.9 L1561.5,219.0 L1563.5,218.1 L1565.5,217.2 L1567.5,216.3 L1569.5,215.4 L1571.5,214.6 L1573.5,213.7 L1575.5,212.9 L1577.5,212.1 L1579.5,211.3 L1581.5,210.5 L1583.5,209.8 L1585.5,209.0 L1587.5,208.3 L1589.5,207.7 L1591.5,207.0 L1593.5,206.4 L1595.5,205.8 L1597.5,205.2 L1598.7,204.9"/>
<path stroke="#7A3400" d="M249.4,819.1 L251.4,817.6 L253.4,816.1 L255.4,814.6 L257.4,813.1 L259.4,811.6 L261.4,810.2 L263.4,808.7 L265.4,807.2 L267.4,805.8 L269.4,804.3 L271.4,802.9 L273.4,801.5 L275.4,800.1 L277.4,798.7 L279.4,797.4 L281.4,796.1 L283.4,794.7 L285.4,793.5 L287.4,792.2 L289.4,790.9 L291.4,789.7 L293.4,788.4 L295.4,787.2 L297.4,785.9 L299.4,784.7 L301.4,783.4 L303.4,782.1 L305.4,780.8 L307.4,779.5 L309.4,778.2 L311.4,776.9 L313.4,775.5 L315.4,774.2 L317.4,772.9 L319.4,771.5 L321.4,770.2 L323.4,768.8 L325.4,767.5 L327.4,766.1 L329.4,764.8 L331.4,763.4 L333.4,762.1 L335.4,760.8 L337.4,759.5 L339.4,758.2 L341.4,757.0 L343.4,755.8 L345.4,754.7 L347.4,753.6 L349.4,752.5 L351.4,751.6 L353.4,750.6 L355.4,749.7 L357.4,748.8 L359.4,747.9 L361.4,747.1 L363.4,746.3 L365.4,745.6 L367.4,744.8 L369.4,744.1 L371.4,743.4 L373.4,742.7 L375.4,742.1 L377.4,741.5 L379.4,740.9 L381.4,740.3 L383.4,739.8 L385.4,739.3 L387.4,738.9 L389.4,738.5 L391.4,738.2 L393.4,737.9 L395.4,737.7 L397.4,737.6 L399.4,737.5 L401.4,737.4 L403.4,737.4 L405.4,737.5 L407.4,737.6 L409.4,737.7 L411.4,737.9 L413.4,738.2 L415.4,738.5 L417.4,738.8 L419.4,739.3 L421.4,739.8 L423.4,740.4 L425.4,741.0 L427.4,741.8 L429.4,742.6 L431.4,743.4 L433.4,744.4 L435.4,745.4 L437.4,746.5 L439.4,747.6 L441.4,748.7 L443.4,749.9 L445.4,751.0 L447.4,752.2 L449.4,753.4 L451.4,754.6 L453.4,755.7 L455.4,756.8 L457.4,758.0 L459.4,759.1 L461.4,760.2 L463.4,761.4 L465.4,762.5 L467.4,763.7 L469.4,765.0 L471.4,766.3 L473.4,767.6 L475.4,769.0 L477.4,770.4 L479.4,771.8 L481.4,773.3 L483.4,774.9 L485.4,776.4 L487.4,778.0 L489.4,779.6 L491.4,781.2 L493.4,782.8 L495.4,784.4 L497.4,786.0 L499.4,787.7 L501.4,789.3 L503.4,790.9 L505.4,792.6 L507.4,794.2 L509.4,795.8 L511.4,797.4 L513.4,799.0 L515.4,800.6 L517.4,802.1 L519.4,803.5 L521.4,804.9 L523.4,806.3 L525.4,807.6 L527.4,808.8 L529.4,810.0 L531.4,811.1 L533.4,812.2 L535.4,813.2 L537.4,814.3 L539.4,815.3 L541.4,816.3 L543.4,817.4 L545.4,818.4 L547.4,819.5 L549.4,820.6 L551.4,821.6 L553.4,822.7 L555.4,823.7 L557.4,824.7 L559.4,825.6 L561.4,826.6 L563.4,827.4 L565.4,828.3 L567.4,829.1 L569.4,829.8 L571.4,830.6 L573.4,831.3 L575.4,832.0 L577.4,832.8 L579.4,833.5 L581.4,834.2 L583.4,834.9 L585.4,835.6 L587.4,836.3 L589.4,837.0 L591.4,837.6 L593.4,838.2 L595.4,838.8 L597.4,839.4 L599.4,840.0 L601.4,840.5 L603.4,841.0 L605.4,841.5 L607.4,841.9 L609.4,842.3 L611.4,842.8 L613.4,843.1 L615.4,843.5 L617.4,843.9 L619.4,844.2 L621.4,844.6 L623.4,844.9 L625.4,845.2 L627.4,845.5 L629.4,845.8 L631.4,846.0 L633.4,846.3 L635.4,846.6 L637.4,846.8 L639.4,847.0 L641.4,847.3 L643.4,847.5 L645.4,847.7 L647.4,847.8 L649.4,848.0 L651.4,848.2 L653.4,848.3 L655.4,848.4 L657.4,848.5 L659.4,848.6 L661.4,848.7 L663.4,848.7 L665.4,848.8 L667.4,848.9 L669.4,848.9 L671.4,849.0 L673.4,849.1 L675.4,849.1 L677.4,849.2 L679.4,849.2 L681.4,849.3 L683.4,849.3 L685.4,849.3 L687.4,849.3 L689.4,849.4 L691.4,849.4 L693.4,849.4 L695.4,849.4 L697.4,849.4 L699.4,849.4 L701.4,849.4 L703.4,849.4 L705.4,849.4 L707.4,849.4 L709.4,849.4 L711.4,849.5 L713.4,849.5 L715.4,849.5 L717.4,849.5 L719.4,849.5 L721.4,849.5 L723.4,849.5 L725.4,849.5 L727.4,849.5 L729.4,849.5 L731.4,849.5 L733.4,849.5 L735.4,849.5 L737.4,849.5 L739.4,849.5 L741.4,849.5 L743.4,849.5 L745.4,849.5 L747.4,849.5 L749.4,849.5 L751.4,849.5 L753.4,849.5 L755.4,849.5 L757.4,849.5 L759.4,849.5 L761.4,849.5 L763.4,849.5 L765.4,849.5 L767.4,849.5 L769.4,849.5 L771.4,849.5 L773.4,849.5 L775.4,849.5 L777.4,849.5 L779.4,849.5 L781.4,849.5 L783.4,849.5 L785.4,849.5 L787.4,849.5 L789.4,849.5 L791.4,849.5 L793.4,849.5 L795.4,849.5 L797.4,849.5 L799.4,849.5 L801.4,849.5 L803.4,849.5 L805.4,849.5 L807.4,849.5 L809.4,849.5 L811.4,849.5 L813.4,849.5 L815.4,849.5 L817.4,849.5 L819.4,849.5 L821.4,849.5 L823.4,849.5 L825.4,849.5 L827.4,849.5 L829.4,849.5 L831.4,849.5 L833.4,849.5 L835.4,849.5 L837.4,849.5 L839.4,849.5 L841.4,849.5 L843.4,849.5 L845.4,849.5 L847.4,849.5 L849.4,849.5 L851.4,849.5 L853.4,849.5 L855.4,849.5 L857.4,849.5 L859.4,849.5 L861.4,849.5 L863.4,849.5 L865.4,849.5 L867.4,849.5 L869.4,849.5 L871.4,849.5 L873.4,849.5 L875.4,849.5 L877.4,849.5 L879.4,849.5 L881.4,849.5 L883.4,849.5 L885.4,849.5 L887.4,849.5 L889.4,849.5 L891.4,849.5 L893.4,849.5 L895.4,849.5 L897.4,849.5 L899.4,849.5 L901.4,849.5 L903.4,849.5 L905.4,849.5 L907.4,849.5 L909.4,849.5 L911.4,849.5 L913.4,849.5 L915.4,849.5 L917.4,849.5 L919.4,849.5 L921.4,849.5 L923.4,849.5 L925.4,849.5 L927.4,849.5 L929.4,849.5 L931.4,849.5 L933.4,849.5 L935.4,849.5 L937.4,849.5 L939.4,849.5 L941.4,849.5 L943.4,849.5 L945.4,849.5 L947.4,849.5 L949.4,849.5 L951.4,849.5 L953.4,849.5 L955.4,849.5 L957.4,849.5 L959.4,849.5 L961.4,849.5 L963.4,849.5 L965.4,849.5 L967.4,849.5 L969.4,849.5 L971.4,849.5 L973.4,849.5 L975.4,849.5 L977.4,849.5 L979.4,849.5 L981.4,849.5 L983.4,849.5 L985.4,849.5 L987.4,849.5 L989.4,849.5 L991.4,849.5 L993.4,849.5 L995.4,849.5 L997.4,849.5 L999.4,849.5 L1001.4,849.5 L1003.4,849.5 L1005.4,849.5 L1007.4,849.5 L1009.4,849.5 L1011.4,849.5 L1013.4,849.5 L1015.4,849.5 L1017.4,849.5 L1019.4,849.5 L1021.4,849.5 L1023.4,849.5 L1025.4,849.5 L1027.4,849.5 L1029.4,849.5 L1031.4,849.5 L1033.4,849.5 L1035.4,849.5 L1037.4,849.5 L1039.4,849.5 L1041.4,849.5 L1043.4,849.5 L1045.4,849.5 L1047.4,849.5 L1049.4,849.5 L1051.4,849.5 L1053.4,849.5 L1055.4,849.5 L1057.4,849.5 L1059.4,849.5 L1061.4,849.5 L1063.4,849.5 L1065.4,849.5 L1067.4,849.5 L1069.4,849.5 L1071.4,849.5 L1073.4,849.5 L1075.4,849.5 L1077.4,849.5 L1079.4,849.5 L1081.4,849.5 L1083.4,849.5 L1085.4,849.5 L1087.4,849.5 L1089.4,849.5 L1091.4,849.5 L1093.4,849.5 L1095.4,849.5 L1097.4,849.5 L1099.4,849.5 L1101.4,849.5 L1103.4,849.5 L1105.4,849.5 L1107.4,849.5 L1109.4,849.5 L1111.4,849.5 L1113.4,849.5 L1115.4,849.5 L1117.4,849.5 L1119.4,849.5 L1121.4,849.5 L1123.4,849.5 L1125.4,849.5 L1127.4,849.5 L1129.4,849.5 L1131.4,849.5 L1133.4,849.5 L1135.4,849.5 L1137.4,849.5 L1139.4,849.5 L1141.4,849.5 L1143.4,849.5 L1145.4,849.5 L1147.4,849.5 L1149.4,849.5 L1151.4,849.5 L1153.4,849.5 L1155.4,849.5 L1157.4,849.5 L1159.4,849.5 L1161.4,849.5 L1163.4,849.5 L1165.4,849.5 L1167.4,849.5 L1169.4,849.5 L1171.4,849.5 L1173.4,849.5 L1175.4,849.5 L1177.4,849.5 L1179.4,849.5 L1181.4,849.5 L1183.4,849.5 L1185.4,849.5 L1187.4,849.5 L1189.4,849.5 L1191.4,849.5 L1193.4,849.5 L1195.4,849.5 L1197.4,849.5 L1199.4,849.5 L1201.4,849.5 L1203.4,849.5 L1205.4,849.5 L1207.4,849.5 L1209.4,849.5 L1211.4,849.5 L1213.4,849.5 L1215.4,849.5 L1217.4,849.5 L1219.4,849.5 L1221.4,849.5 L1223.4,849.5 L1225.4,849.5 L1227.4,849.5 L1229.4,849.5 L1231.4,849.5 L1233.4,849.5 L1235.4,849.5 L1237.4,849.5 L1239.4,849.5 L1241.4,849.5 L1243.4,849.5 L1245.4,849.5 L1247.4,849.5 L1249.4,849.5 L1251.4,849.5 L1253.4,849.5 L1255.4,849.5 L1257.4,849.5 L1259.4,849.5 L1261.4,849.5 L1263.4,849.5 L1265.4,849.5 L1267.4,849.5 L1269.4,849.5 L1271.4,849.5 L1273.4,849.5 L1275.4,849.5 L1277.4,849.5 L1279.4,849.5 L1281.4,849.5 L1283.4,849.5 L1285.4,849.5 L1287.4,849.5 L1289.4,849.5 L1291.4,849.5 L1293.4,849.5 L1295.4,849.5 L1297.4,849.5 L1299.4,849.5 L1301.4,849.5 L1303.4,849.5 L1305.4,849.5 L1307.4,849.5 L1309.4,849.5 L1311.4,849.5 L1313.4,849.5 L1315.4,849.5 L1317.4,849.5 L1319.4,849.5 L1321.4,849.5 L1323.4,849.5 L1325.4,849.5 L1327.4,849.5 L1329.4,849.5 L1331.4,849.5 L1333.4,849.5 L1335.4,849.5 L1337.4,849.5 L1339.4,849.5 L1341.4,849.5 L1343.4,849.5 L1345.4,849.5 L1347.4,849.5 L1349.4,849.5 L1351.4,849.5 L1353.4,849.5 L1355.4,849.5 L1357.4,849.5 L1359.4,849.5 L1361.4,849.5 L1363.4,849.5 L1365.4,849.5 L1367.4,849.5 L1369.4,849.5 L1371.4,849.5 L1373.4,849.5 L1375.4,849.5 L1377.4,849.5 L1379.4,849.5 L1381.4,849.5 L1383.4,849.5 L1385.4,849.5 L1387.4,849.5 L1389.4,849.5 L1391.4,849.5 L1393.4,849.5 L1395.4,849.5 L1397.4,849.5 L1399.4,849.5 L1401.4,849.5 L1403.4,849.5 L1405.4,849.5 L1407.4,849.5 L1409.4,849.5 L1411.4,849.5 L1413.4,849.5 L1415.4,849.5 L1417.4,849.5 L1419.4,849.5 L1421.4,849.5 L1423.4,849.5 L1425.4,849.5 L1427.4,849.5 L1429.4,849.5 L1431.4,849.5 L1433.4,849.5 L1435.4,849.5 L1437.4,849.5 L1439.4,849.5 L1441.4,849.5 L1443.4,849.5 L1445.4,849.5 L1447.4,849.5 L1449.4,849.5 L1451.4,849.5 L1453.4,849.5 L1455.4,849.5 L1457.4,849.5 L1459.4,849.5 L1461.4,849.5 L1463.4,849.5 L1465.4,849.5 L1467.4,849.5 L1469.4,849.5 L1471.4,849.5 L1473.4,849.5 L1475.4,849.5 L1477.4,849.5 L1479.4,849.5 L1481.4,849.5 L1483.4,849.5 L1485.4,849.5 L1487.4,849.5 L1489.4,849.5 L1491.4,849.5 L1493.4,849.5 L1495.4,849.5 L1497.4,849.5 L1499.4,849.5 L1501.4,849.5 L1503.4,849.5 L1505.4,849.5 L1507.4,849.5 L1509.4,849.5 L1511.4,849.5 L1513.4,849.5 L1515.4,849.5 L1517.4,849.5 L1519.4,849.5 L1521.4,849.5 L1523.4,849.5 L1525.4,849.5 L1527.4,849.5 L1529.4,849.5 L1531.4,849.5 L1533.4,849.5 L1535.4,849.5 L1537.4,849.5 L1539.4,849.5 L1541.4,849.5 L1543.4,849.5 L1545.4,849.5 L1547.4,849.5 L1549.4,849.5 L1551.4,849.5 L1553.4,849.5 L1555.4,849.5 L1557.4,849.5 L1559.4,849.5 L1561.4,849.5 L1563.4,849.5 L1565.4,849.5 L1567.4,849.5 L1569.4,849.5 L1571.4,849.5 L1573.4,849.5 L1575.4,849.5 L1577.4,849.5 L1579.4,849.5 L1581.4,849.5 L1583.4,849.5 L1585.4,849.5 L1587.4,849.5 L1589.4,849.5 L1591.4,849.5 L1593.4,849.5 L1595.4,849.5 L1597.4,849.5 L1599.4,849.5 L1601.0,849.5"/>
</g>
<text transform="matrix(0.50930,0,0,0.55362,161.13,53.40)" fill="#000">1</text>
<text transform="matrix(0.57405,0,0,0.53803,111.50,216.20)" fill="#000">0.8</text>
<text transform="matrix(0.57405,0,0,0.53803,111.50,379.54)" fill="#000">0.6</text>
<text transform="matrix(0.56970,0,0,0.53803,111.52,542.88)" fill="#000">0.4</text>
<text transform="matrix(0.57846,0,0,0.53803,111.49,706.22)" fill="#000">0.2</text>
<text transform="matrix(0.55625,0,0,0.53803,159.58,869.56)" fill="#000">0</text>
<text transform="matrix(0.56646,0,0,0.52887,202.77,948.17)" fill="#000">400</text>
<text transform="matrix(0.57358,0,0,0.52887,376.04,948.17)" fill="#000">500</text>
<text transform="matrix(0.57722,0,0,0.52887,549.89,948.17)" fill="#000">600</text>
<text transform="matrix(0.57722,0,0,0.52887,724.33,948.17)" fill="#000">700</text>
<text transform="matrix(0.57358,0,0,0.52887,899.36,948.17)" fill="#000">800</text>
<text transform="matrix(0.57722,0,0,0.52887,1073.20,948.17)" fill="#000">900</text>
<text transform="matrix(0.56619,0,0,0.52887,1232.15,948.17)" fill="#000">1000</text>
<text transform="matrix(0.58571,0,0,0.52887,1406.43,948.17)" fill="#000">1100</text>
<text transform="matrix(0.56619,0,0,0.52887,1581.02,948.17)" fill="#000">1200</text>
<text transform="matrix(0.65081,0,0,0.64638,662.40,1054.20)" fill="#000">Temperature</text>
<text transform="matrix(0.56116,0,0,0.64638,1050.53,1054.20)" fill="#000">(K)</text>
<text transform="matrix(0,-0.61224,0.61972,0,74.18,798.16)" fill="#000">Surface</text>
<text transform="matrix(0,-0.62357,0.61972,0,74.18,566.39)" fill="#000">coverage</text>
<text transform="matrix(0,-0.62045,0.61972,0,74.18,292.02)" fill="#000">(-)</text>
<text transform="matrix(0.58142,0,0,0.65072,401.43,267.20)" font-weight="bold" fill="#009900">H(s)</text>
<text transform="matrix(0.60238,0,0,0.66667,1343.18,197.80)" font-weight="bold" fill="#00B0F0">Ni(s)</text>
<text transform="matrix(0.55361,0,0,0.63803,825.19,413.36)" font-weight="bold" fill="#B000A0">CO(s)</text>
<text transform="matrix(0.53387,0,0,0.62817,462.16,706.37)" font-weight="bold" fill="#7A3400">C(s)</text>
</svg></body></html>
